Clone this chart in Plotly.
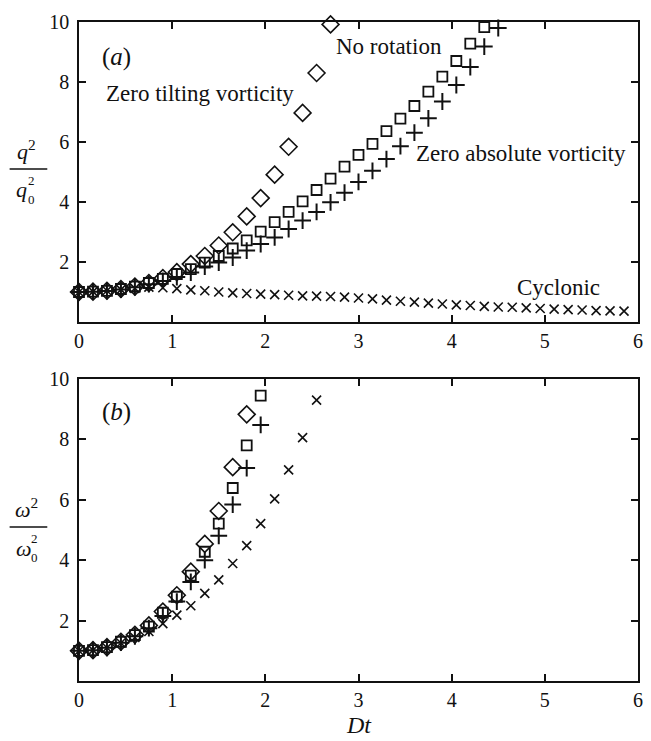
import plotly.graph_objects as go

# Time grid: samples every 0.15 in Dt
DT = 0.15

# (a) kinetic-energy growth q^2/q0^2
q_zero_tilting = [1.0, 1.01, 1.04, 1.1, 1.18, 1.3, 1.46, 1.66, 1.93, 2.2, 2.55, 2.99,
                  3.52, 4.13, 4.91, 5.84, 6.97, 8.3, 9.92]
q_no_rotation = [1.0, 1.01, 1.04, 1.1, 1.18, 1.3, 1.44, 1.6, 1.76, 1.98, 2.2, 2.45,
                 2.72, 3.01, 3.33, 3.67, 4.02, 4.4, 4.78, 5.18, 5.57, 5.94, 6.36, 6.78,
                 7.2, 7.68, 8.18, 8.7, 9.28, 9.83]
q_zero_absolute = [1.0, 1.01, 1.03, 1.08, 1.16, 1.26, 1.37, 1.5, 1.65, 1.85, 1.98, 2.15,
                   2.38, 2.6, 2.82, 3.1, 3.38, 3.67, 3.99, 4.31, 4.67, 5.04, 5.43, 5.86,
                   6.31, 6.79, 7.35, 7.9, 8.5, 9.18, 9.8]
q_cyclonic = [1.0, 1.01, 1.04, 1.08, 1.12, 1.16, 1.14, 1.11, 1.07, 1.04, 1.0, 0.97,
              0.95, 0.93, 0.91, 0.89, 0.87, 0.86, 0.85, 0.83, 0.8, 0.77, 0.73, 0.69,
              0.66, 0.63, 0.6, 0.57, 0.55, 0.52, 0.5, 0.49, 0.47, 0.45, 0.43, 0.41,
              0.4, 0.38, 0.37, 0.36]

# (b) enstrophy growth w^2/w0^2
w_zero_tilting = [1.0, 1.02, 1.12, 1.3, 1.53, 1.84, 2.3, 2.84, 3.62, 4.54, 5.63, 7.08, 8.83]
w_no_rotation = [1.0, 1.02, 1.12, 1.3, 1.52, 1.8, 2.26, 2.79, 3.49, 4.28, 5.21, 6.39,
                 7.8, 9.45]
w_zero_absolute = [1.0, 1.02, 1.1, 1.27, 1.48, 1.75, 2.15, 2.63, 3.28, 4.0, 4.81, 5.84,
                   7.05, 8.48]
w_cyclonic = [1.0, 1.02, 1.1, 1.26, 1.44, 1.64, 1.9, 2.18, 2.49, 2.9, 3.35, 3.89, 4.48,
              5.21, 6.03, 6.99, 8.06, 9.3]

x_ticks = [0, 1, 2, 3, 4, 5, 6]
y_ticks = [2, 4, 6, 8, 10]

SERIF = "Liberation Serif"
BLACK = "#111111"

# Figure geometry (pixels)
W, H = 651, 741
ML, MR, MT, MB = 79, 8, 22, 60
PLOT_W = W - ML - MR
PLOT_H = H - MT - MB


def times(values):
    return [round(i * DT, 4) for i in range(len(values))]


STYLES = {
    "cyclonic": dict(symbol="x-thin-open", size=9, line=dict(width=1.6, color=BLACK)),
    "absolute": dict(symbol="cross-thin-open", size=12, line=dict(width=2, color=BLACK)),
    "norot": dict(symbol="square-open", size=10, line=dict(width=1.8, color=BLACK)),
    "tilting": dict(symbol="diamond-open", size=13, line=dict(width=1.6, color=BLACK)),
}

fig = go.Figure()

panels = [
    ("x", "y", [("cyclonic", q_cyclonic), ("absolute", q_zero_absolute),
                ("norot", q_no_rotation), ("tilting", q_zero_tilting)]),
    ("x2", "y2", [("cyclonic", w_cyclonic), ("absolute", w_zero_absolute),
                  ("norot", w_no_rotation), ("tilting", w_zero_tilting)]),
]
for xa, ya, series in panels:
    for key, vals in series:
        st = STYLES[key]
        fig.add_trace(go.Scatter(
            x=times(vals), y=vals, mode="markers", xaxis=xa, yaxis=ya,
            showlegend=False, cliponaxis=False,
            marker=dict(symbol=st["symbol"], size=st["size"], color=BLACK, line=st["line"]),
        ))

axis_common = dict(
    range=[0, 6], tickvals=x_ticks, ticks="inside", ticklen=7, tickwidth=1.5,
    tickcolor=BLACK, showline=True, linecolor=BLACK, linewidth=1.5, mirror="ticks",
    showgrid=False, zeroline=False,
    tickfont=dict(family=SERIF, size=20, color=BLACK),
)
yaxis_common = dict(
    range=[0, 10], tickvals=y_ticks, ticks="inside", ticklen=7, tickwidth=1.5,
    tickcolor=BLACK, showline=True, linecolor=BLACK, linewidth=1.5, mirror="ticks",
    showgrid=False, zeroline=False, ticklabelstandoff=4,
    tickfont=dict(family=SERIF, size=20, color=BLACK),
)

fig.update_layout(
    width=W, height=H,
    margin=dict(l=ML, r=MR, t=MT, b=MB),
    paper_bgcolor="white", plot_bgcolor="white",
    xaxis=dict(domain=[0, 1], anchor="y", **axis_common),
    yaxis=dict(domain=[0.5448, 1], anchor="x", **yaxis_common),
    xaxis2=dict(domain=[0, 1], anchor="y2", **axis_common),
    yaxis2=dict(domain=[0, 0.4583], anchor="x2", **yaxis_common),
)


def text(x, y, s, xref="x", yref="y", size=23, xanchor="center"):
    fig.add_annotation(x=x, y=y, xref=xref, yref=yref, text=s, showarrow=False,
                       xanchor=xanchor, yanchor="middle",
                       font=dict(family=SERIF, size=size, color=BLACK))


# Panel labels and curve names
text(0.4, 8.85, "(<i>a</i>)", size=25)
text(1.3, 7.6, "Zero tilting vorticity")
text(3.33, 9.18, "No rotation")
text(4.74, 5.6, "Zero absolute vorticity")
text(5.15, 1.15, "Cyclonic")
text(0.4, 8.92, "(<i>b</i>)", xref="x2", yref="y2", size=25)


def px(xpix):
    return (xpix - ML) / PLOT_W


def py(ypix):
    return (H - MB - ypix) / PLOT_H


# Horizontal axis title
text(0.5, py(725), "<i>Dt</i>", xref="paper", yref="paper", size=24)


# Vertical axis titles drawn as stacked fractions
def fraction(sym, yref, ymid, sub_x):
    fig.add_shape(type="line", xref="paper", yref=yref, x0=px(9), x1=px(47),
                  y0=ymid, y1=ymid, line=dict(color=BLACK, width=1.5))
    text(px(26), ymid + 0.62, f"<i>{sym}</i><sup>2</sup>", xref="paper", yref=yref, size=22)
    text(px(13), ymid - 0.7, f"<i>{sym}</i>", xref="paper", yref=yref, size=22,
         xanchor="left")
    text(px(sub_x), ymid - 0.38, "2", xref="paper", yref=yref, size=13, xanchor="left")
    text(px(sub_x), ymid - 1.02, "0", xref="paper", yref=yref, size=13, xanchor="left")


fraction("q", "y", 5.1, 26)
fraction("ω", "y2", 5.1, 29)

fig.write_html("out.html")
